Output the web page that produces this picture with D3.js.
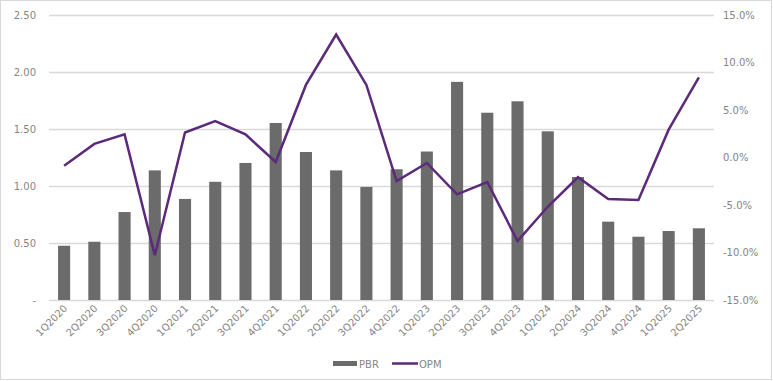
<!DOCTYPE html>
<html><head><meta charset="utf-8">
<script src="https://cdn.jsdelivr.net/npm/d3@7"></script>
<style>
body{margin:0;background:#fff;}
text{font-family:"DejaVu Sans",sans-serif;}
</style></head><body>
<svg id="c" width="773" height="381"></svg>
<script>
const categories = ["1Q2020","2Q2020","3Q2020","4Q2020","1Q2021","2Q2021","3Q2021","4Q2021","1Q2022","2Q2022","3Q2022","4Q2022","1Q2023","2Q2023","3Q2023","4Q2023","1Q2024","2Q2024","3Q2024","4Q2024","1Q2025","2Q2025"];
const pbr = [0.475,0.51,0.77,1.135,0.885,1.035,1.20,1.55,1.296,1.135,0.99,1.145,1.30,1.91,1.64,1.74,1.477,1.077,0.686,0.554,0.604,0.628];
const opm = [-0.9,1.4,2.4,-10.3,2.6,3.8,2.4,-0.5,7.6,12.9,7.6,-2.5,-0.6,-3.9,-2.6,-8.8,-5.2,-2.1,-4.4,-4.5,2.9,8.4];
const leftTicks = [0,0.5,1.0,1.5,2.0,2.5];
const leftLabels = ["-","0.50","1.00","1.50","2.00","2.50"];
const rightTicks = [-15,-10,-5,0,5,10,15];

const svg = d3.select("#c");
const L = 49, R = 714, T = 14.5, B = 300;
const textColor = "#858585", gridColor = "#d9d9d9";

svg.append("rect").attr("x",0.5).attr("y",0.5).attr("width",771).attr("height",379)
  .attr("fill","#fff").attr("stroke",gridColor);

const x = d3.scaleBand().domain(categories).range([L,R]).paddingInner(0.6).paddingOuter(0.3);
const y = d3.scaleLinear().domain([0,2.5]).range([B,T]);
const y2 = d3.scaleLinear().domain([-15,15]).range([B,T]);

svg.append("g").selectAll("line").data(leftTicks).join("line")
  .attr("x1",L).attr("x2",R).attr("y1",d=>Math.round(y(d))+0.5).attr("y2",d=>Math.round(y(d))+0.5)
  .attr("stroke",gridColor).attr("stroke-width",1.3);

svg.append("g").selectAll("text").data(leftTicks).join("text")
  .attr("x",36).attr("y",d=>y(d)+4).attr("text-anchor","end")
  .attr("font-size",10).attr("fill",textColor)
  .text((d,i)=>leftLabels[i]);

svg.append("g").selectAll("text").data(rightTicks).join("text")
  .attr("x",723).attr("y",d=>y2(d)+4).attr("text-anchor","start")
  .attr("font-size",10).attr("fill",textColor)
  .text(d=>d3.format(".1f")(d).replace("−","-")+"%");

svg.append("g").selectAll("rect").data(categories).join("rect")
  .attr("x",d=>x(d)).attr("width",x.bandwidth())
  .attr("y",(d,i)=>y(pbr[i])).attr("height",(d,i)=>y(0)-y(pbr[i]))
  .attr("fill","#6b6b6b");

const line = d3.line().x((d,i)=>x(categories[i])+x.bandwidth()/2).y(d=>y2(d));
svg.append("path").datum(opm).attr("d",line).attr("fill","none")
  .attr("stroke","#5b2a7a").attr("stroke-width",2.5).attr("stroke-linejoin","miter");

svg.append("g").selectAll("text").data(categories).join("text")
  .attr("transform",d=>`translate(${x(d)+x.bandwidth()/2+4},${B+9}) rotate(-45)`)
  .attr("text-anchor","end").attr("font-size",10).attr("fill",textColor)
  .text(d=>d);

const lg = svg.append("g");
lg.append("rect").attr("x",333).attr("y",361).attr("width",24).attr("height",5).attr("fill","#6b6b6b");
lg.append("text").attr("x",359).attr("y",367.5).attr("font-size",10).attr("fill",textColor).text("PBR");
lg.append("line").attr("x1",392).attr("x2",418).attr("y1",363.5).attr("y2",363.5).attr("stroke","#5b2a7a").attr("stroke-width",2.5);
lg.append("text").attr("x",419).attr("y",367.5).attr("font-size",10).attr("fill",textColor).text("OPM");
</script>
</body></html>
